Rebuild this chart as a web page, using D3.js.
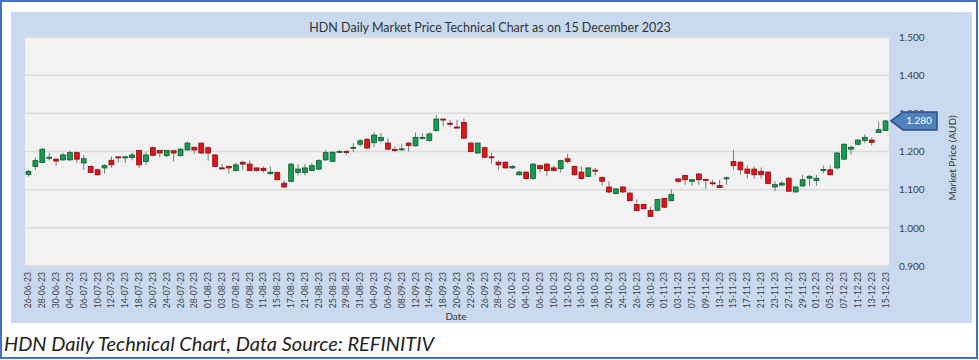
<!DOCTYPE html>
<html><head><meta charset="utf-8">
<script src="https://cdn.jsdelivr.net/npm/d3@7"></script>
<style>body{margin:0;background:#fff} svg{display:block}</style>
</head><body><svg id="c" width="979" height="360"></svg>
<script>
const dates = ["26-06-23","27-06-23","28-06-23","29-06-23","30-06-23",
"03-07-23","04-07-23","05-07-23","06-07-23","07-07-23","10-07-23","11-07-23","12-07-23","13-07-23","14-07-23",
"17-07-23","18-07-23","19-07-23","20-07-23","21-07-23","24-07-23","25-07-23","26-07-23","27-07-23","28-07-23","31-07-23",
"01-08-23","02-08-23","03-08-23","04-08-23","07-08-23","08-08-23","09-08-23","10-08-23","11-08-23",
"14-08-23","15-08-23","16-08-23","17-08-23","18-08-23","21-08-23","22-08-23","23-08-23","24-08-23","25-08-23",
"28-08-23","29-08-23","30-08-23","31-08-23","01-09-23","04-09-23","05-09-23","06-09-23","07-09-23","08-09-23",
"11-09-23","12-09-23","13-09-23","14-09-23","15-09-23","18-09-23","19-09-23","20-09-23","21-09-23","22-09-23",
"25-09-23","26-09-23","27-09-23","28-09-23","29-09-23","02-10-23","03-10-23","04-10-23","05-10-23","06-10-23",
"09-10-23","10-10-23","11-10-23","12-10-23","13-10-23","16-10-23","17-10-23","18-10-23","19-10-23","20-10-23",
"23-10-23","24-10-23","25-10-23","26-10-23","27-10-23","30-10-23","31-10-23","01-11-23","02-11-23","03-11-23",
"06-11-23","07-11-23","08-11-23","09-11-23","10-11-23","13-11-23","14-11-23","15-11-23","16-11-23","17-11-23",
"20-11-23","21-11-23","22-11-23","23-11-23","24-11-23","27-11-23","28-11-23","29-11-23","30-11-23","01-12-23",
"04-12-23","05-12-23","06-12-23","07-12-23","08-12-23","11-12-23","12-12-23","13-12-23","14-12-23","15-12-23"];

const open = [1.140,1.161,1.171,1.183,1.180,1.178,1.178,1.197,1.170,1.161,1.152,1.157,1.177,1.186,1.185,1.184,1.203,1.174,1.210,1.203,
1.189,1.202,1.189,1.204,1.211,1.222,1.210,1.191,1.157,1.161,1.150,1.172,1.167,1.157,1.156,1.142,1.145,1.117,1.122,1.145,
1.145,1.150,1.154,1.178,1.174,1.199,1.200,1.209,1.219,1.232,1.223,1.229,1.222,1.205,1.206,1.222,1.215,1.235,1.229,1.255,
1.285,1.274,1.264,1.276,1.222,1.196,1.210,1.186,1.172,1.172,1.157,1.139,1.146,1.129,1.163,1.167,1.157,1.155,1.181,1.161,
1.146,1.135,1.151,1.132,1.107,1.090,1.107,1.091,1.061,1.061,1.046,1.046,1.077,1.071,1.128,1.137,1.122,1.141,1.127,1.118,
1.111,1.130,1.174,1.172,1.154,1.154,1.148,1.146,1.107,1.112,1.130,1.094,1.110,1.130,1.124,1.152,1.152,1.157,1.180,1.206,
1.219,1.229,1.230,1.250,1.255];
const high = [1.153,1.184,1.209,1.196,1.181,1.196,1.202,1.200,1.191,1.163,1.155,1.167,1.187,1.186,1.189,1.197,1.204,1.200,1.213,1.204,
1.204,1.202,1.209,1.226,1.213,1.223,1.213,1.193,1.167,1.163,1.170,1.174,1.176,1.158,1.161,1.161,1.148,1.124,1.170,1.167,
1.167,1.170,1.180,1.204,1.200,1.204,1.204,1.222,1.233,1.235,1.250,1.248,1.235,1.213,1.220,1.223,1.250,1.248,1.250,1.296,
1.285,1.283,1.283,1.287,1.224,1.223,1.211,1.197,1.176,1.174,1.165,1.150,1.148,1.170,1.165,1.170,1.163,1.178,1.194,1.163,
1.161,1.158,1.157,1.135,1.122,1.104,1.109,1.093,1.074,1.063,1.055,1.076,1.078,1.102,1.130,1.139,1.128,1.143,1.128,1.126,
1.126,1.135,1.204,1.174,1.163,1.161,1.158,1.148,1.122,1.122,1.133,1.110,1.139,1.139,1.139,1.163,1.163,1.200,1.223,1.216,
1.232,1.245,1.237,1.278,1.283];
const low = [1.134,1.152,1.170,1.176,1.163,1.176,1.176,1.170,1.152,1.143,1.137,1.142,1.157,1.171,1.170,1.178,1.157,1.165,1.189,1.185,
1.185,1.174,1.187,1.203,1.194,1.194,1.176,1.159,1.154,1.142,1.148,1.152,1.150,1.148,1.145,1.139,1.124,1.104,1.119,1.137,
1.137,1.148,1.152,1.176,1.172,1.196,1.191,1.198,1.213,1.207,1.211,1.223,1.204,1.198,1.202,1.200,1.213,1.232,1.226,1.252,
1.267,1.265,1.262,1.232,1.198,1.194,1.183,1.168,1.152,1.155,1.154,1.137,1.126,1.126,1.145,1.135,1.148,1.145,1.170,1.137,
1.126,1.133,1.137,1.111,1.091,1.087,1.091,1.070,1.043,1.048,1.029,1.043,1.052,1.070,1.117,1.113,1.110,1.113,1.102,1.110,
1.104,1.113,1.152,1.139,1.130,1.128,1.129,1.113,1.096,1.109,1.094,1.092,1.107,1.110,1.110,1.143,1.137,1.152,1.178,1.191,
1.216,1.222,1.216,1.249,1.254];
const close = [1.148,1.176,1.206,1.185,1.175,1.191,1.197,1.180,1.181,1.145,1.139,1.163,1.165,1.185,1.186,1.191,1.165,1.191,1.190,1.196,
1.203,1.196,1.206,1.222,1.204,1.196,1.196,1.161,1.155,1.157,1.165,1.167,1.150,1.150,1.150,1.146,1.126,1.107,1.167,1.154,
1.157,1.163,1.176,1.197,1.198,1.200,1.199,1.211,1.228,1.209,1.243,1.237,1.206,1.204,1.207,1.216,1.237,1.237,1.246,1.285,
1.284,1.273,1.263,1.235,1.200,1.222,1.185,1.185,1.165,1.157,1.161,1.146,1.129,1.167,1.155,1.150,1.150,1.176,1.174,1.139,
1.129,1.157,1.150,1.122,1.094,1.102,1.094,1.071,1.045,1.050,1.030,1.074,1.054,1.087,1.122,1.126,1.126,1.126,1.126,1.117,
1.106,1.131,1.163,1.152,1.143,1.139,1.139,1.116,1.113,1.117,1.096,1.107,1.126,1.135,1.130,1.153,1.139,1.196,1.219,1.211,
1.230,1.237,1.224,1.257,1.280];

const yTicks = [0.9, 1.0, 1.1, 1.2, 1.3, 1.4, 1.5];
const titleText = "HDN Daily Market Price Technical Chart as on 15 December 2023";
const yTitle = "Market Price (AUD)";
const xTitle = "Date";
const caption = "HDN Daily Technical Chart, Data Source: REFINITIV";

const FONT = "Lato, 'Open Sans', sans-serif";
const svg = d3.select("#c");
const W = 979, H = 360;
const plot = {x0: 25, x1: 889, y0: 37, y1: 266};

// frames
svg.append("rect").attr("x",1).attr("y",1).attr("width",W-3).attr("height",H-3)
  .attr("fill","#fff").attr("stroke","#4472C4").attr("stroke-width",2);
svg.append("rect").attr("x",11).attr("y",12).attr("width",961).attr("height",311).attr("fill","#C9DAF0");
svg.append("rect").attr("x",plot.x0).attr("y",plot.y0).attr("width",plot.x1-plot.x0).attr("height",plot.y1-plot.y0).attr("fill","#F2F2F2");

const x = d3.scaleBand().domain(dates).range([plot.x0, plot.x1]).paddingInner(0).paddingOuter(0);
const y = d3.scaleLinear().domain([0.9, 1.5]).range([plot.y1, plot.y0]);

// gridlines
svg.append("g").selectAll("line").data(yTicks).join("line")
  .attr("x1",plot.x0).attr("x2",plot.x1)
  .attr("y1",d=>y(d)).attr("y2",d=>y(d))
  .attr("stroke","#DADADA").attr("stroke-width",1.5);

// y axis (right)
const yAxis = d3.axisRight(y).tickValues(yTicks).tickFormat(d3.format(".3f")).tickSize(0).tickPadding(10);
const gy = svg.append("g").attr("transform",`translate(${plot.x1},0)`).call(yAxis);
gy.select(".domain").remove();
gy.selectAll("text").attr("font-family",FONT).attr("font-size","10px").attr("fill","#404040");

// x axis
const xAxis = d3.axisBottom(x).tickValues(dates.filter((d,i)=>i%2===0)).tickSize(0);
const gx = svg.append("g").attr("transform",`translate(0,${plot.y1})`).call(xAxis);
gx.select(".domain").remove();
gx.selectAll("text").attr("font-family",FONT).attr("font-size","8.6px").attr("fill","#404040")
  .attr("text-anchor","end").attr("transform","rotate(-90)")
  .attr("x",-6).attr("y",0).attr("dy","0.35em");

// candles
const idx = d3.range(dates.length);
const bw = x.bandwidth()*0.7;
const cx = i => x(dates[i]) + x.bandwidth()/2;
const up = i => close[i] >= open[i];
const g = svg.append("g");
g.selectAll("line.w").data(idx).join("line").attr("class","w")
  .attr("x1",i=>cx(i)).attr("x2",i=>cx(i))
  .attr("y1",i=>y(high[i])).attr("y2",i=>y(low[i]))
  .attr("stroke","#7a7a7a").attr("stroke-width",1);
g.selectAll("rect.b").data(idx).join("rect").attr("class","b")
  .attr("x",i=>cx(i)-bw/2).attr("width",bw)
  .attr("y",i=>Math.min(y(open[i]),y(close[i])))
  .attr("height",i=>Math.max(1,Math.abs(y(open[i])-y(close[i]))))
  .attr("fill",i=>up(i)?"#179B50":"#E3131B")
  .attr("stroke",i=>up(i)?"#0B5A2D":"#8A0C0C").attr("stroke-width",0.8);

// title
svg.append("text").attr("x",490).attr("y",32).attr("text-anchor","middle")
  .attr("font-family",FONT).attr("font-size","12.5px").attr("fill","#333").text(titleText);

// y title
svg.append("text").attr("transform","translate(956,158) rotate(-90)").attr("text-anchor","middle")
  .attr("font-family",FONT).attr("font-size","10px").attr("fill","#333").text(yTitle);

// x title
svg.append("text").attr("x",456).attr("y",320).attr("text-anchor","middle")
  .attr("font-family",FONT).attr("font-size","10px").attr("fill","#333").text(xTitle);

// callout
const last = close.length-1;
const ly = y(close[last]);
svg.append("path")
  .attr("d",`M${plot.x1+2},${ly} L${plot.x1+14},${ly-9} L${plot.x1+48},${ly-9} L${plot.x1+48},${ly+9} L${plot.x1+14},${ly+9} Z`)
  .attr("fill","#4F81BD").attr("stroke","#2B4F86").attr("stroke-width",1.5);
svg.append("text").attr("x",plot.x1+30).attr("y",ly).attr("dy","0.35em").attr("text-anchor","middle")
  .attr("font-family",FONT).attr("font-size","10px").attr("fill","#fff").text(d3.format(".3f")(close[last]));

// caption
svg.append("text").attr("x",4).attr("y",351)
  .attr("font-family",FONT).attr("font-size","20px").attr("font-style","italic").attr("fill","#222").text(caption);
</script></body></html>
